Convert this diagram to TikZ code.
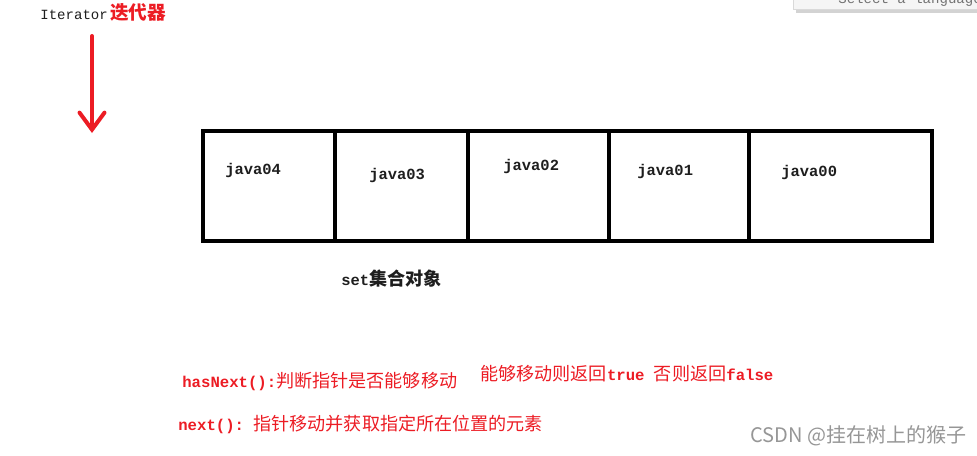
\documentclass[tikz,border=0pt]{standalone}
\usepackage{fontspec}
\setmainfont{Liberation Serif}
\setmonofont{Liberation Mono}
\setsansfont{Liberation Sans}
\newfontfamily\cjk{Noto Sans CJK SC}
\usetikzlibrary{arrows.meta,positioning,shadows}
\definecolor{pen}{RGB}{236,28,36}
\definecolor{ink}{RGB}{30,30,30}
\definecolor{wmgray}{RGB}{150,150,150}
\newcommand\zh[1]{{\cjk\mdseries\fontsize{10.3}{12}\selectfont #1}}
\tikzset{
  cell/.style={draw=black,line width=2.3pt,minimum height=22mm,inner sep=0pt,outer sep=0pt},
  item/.style={font=\ttfamily\bfseries\fontsize{8.8}{10}\selectfont,text=ink,inner sep=0pt,anchor=west},
  note/.style={font=\ttfamily\bfseries\fontsize{8.9}{10}\selectfont,text=pen,inner sep=0pt,anchor=west},
  pointer/.style={draw=pen,line width=0.8mm,line cap=round,
    -{Straight Barb[length=3.4mm,width=5mm,line cap=round]}},
  popup/.style={fill=white!96!black,draw=black!15,drop shadow={opacity=0.35,shadow xshift=0.6mm,shadow yshift=-0.6mm}},
}
\begin{document}
\begin{tikzpicture}[x=0.2mm,y=-0.2mm]
  \useasboundingbox (0,0) rectangle (977,455);
  % corner of a language menu
  \begin{scope}
    \clip (0,0) rectangle (977,455);
    \node[popup,anchor=south west,minimum width=38mm,minimum height=8mm] (menu) at (793,10) {};
    \node[font=\ttfamily\fontsize{8}{9}\selectfont,text=black!55,anchor=west,inner sep=0pt] (menutext) at (838,0) {Select a language};
  \end{scope}
  % iterator
  \node[font=\ttfamily\fontsize{8}{9}\selectfont,text=ink,anchor=west,inner sep=0pt] (iter) at (40,12)
    {Iterator\,{\cjk\bfseries\color{pen}\fontsize{10.6}{12}\selectfont 迭代器}};
  \coordinate (tail) at (92,36);
  \coordinate (head) at (92,133);
  \draw[pointer] (tail) -- (head);
  % the set
  \node[cell,minimum width=26.4mm,anchor=north west] (c4) at (203,131) {};
  \node[cell,minimum width=26.6mm,right=0pt of c4] (c3) {};
  \node[cell,minimum width=28.2mm,right=0pt of c3] (c2) {};
  \node[cell,minimum width=28mm,right=0pt of c2] (c1) {};
  \node[cell,minimum width=36.6mm,right=0pt of c1] (c0) {};
  \node[item] (t4) at (225,170) {java04};
  \node[item] (t3) at (369,175) {java03};
  \node[item] (t2) at (503,166) {java02};
  \node[item] (t1) at (637,171) {java01};
  \node[item] (t0) at (781,172) {java00};
  \node[item] (setname) at (341,279) {set{\cjk\bfseries\fontsize{10.3}{12}\selectfont 集合对象}};
  % methods
  \node[note] (hasnext) at (182,381) {hasNext():\zh{判断指针是否能够移动}};
  \node[note] (result) at (480,374) {\zh{能够移动则返回}true \zh{否则返回}false};
  \node[note] (next) at (178,424) {next(): \zh{指针移动并获取指定所在位置的元素}};
  \node[font=\cjk\fontsize{11.4}{12}\selectfont,text=wmgray,anchor=west,inner sep=0pt] (mark) at (750,436) {CSDN @挂在树上的猴子};
\end{tikzpicture}
\end{document}
